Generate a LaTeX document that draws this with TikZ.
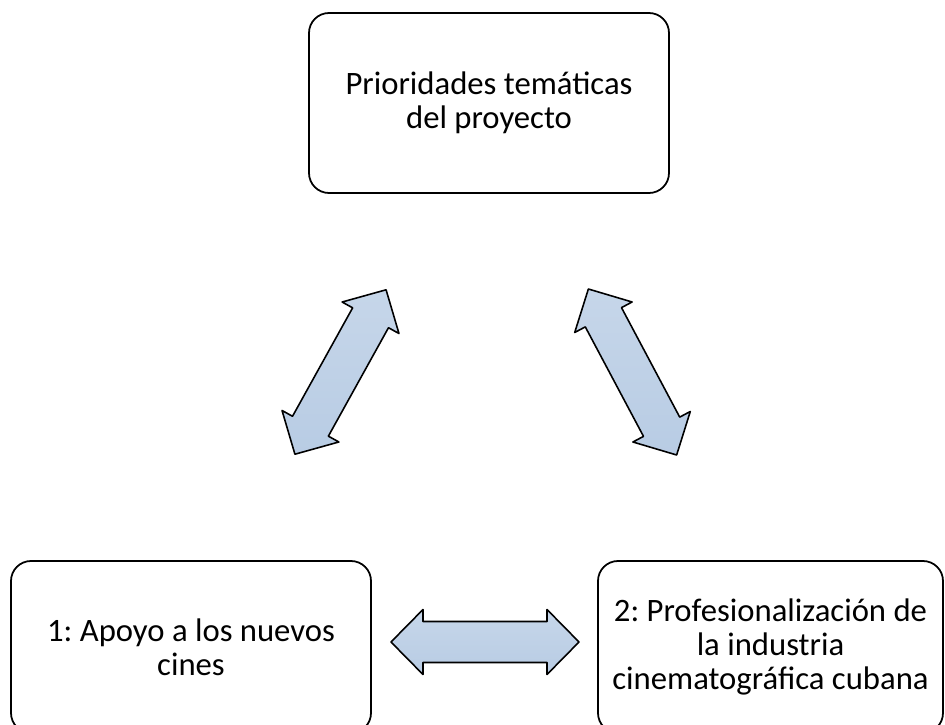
\documentclass[tikz,border=0pt]{standalone}
\usepackage{fontspec}
\setmainfont{Carlito}
\usepackage{tikz}
\usepackage{xcolor}
\definecolor{arrowblue}{RGB}{184,204,228}

\begin{document}
\frenchspacing
\begin{tikzpicture}[
  themebox/.style = {draw, black, line width = 1pt, rounded corners = 0.4cm,
    align = center, font = \fontsize{18.6}{19.5}\selectfont},
  linkarrow/.style = {draw, black, line width = 0.9pt, line join = round,
    top color = arrowblue!80!white, bottom color = arrowblue}]
\useasboundingbox (0,0) rectangle (18.9,14.48);
\clip (0,0) rectangle (18.9,14.48);
\node[themebox, minimum width = 7.2cm, minimum height = 3.6cm] (prior) at (9.78,12.42) {Prioridades temáticas\\del proyecto};
\node[themebox, minimum width = 7.2cm, minimum height = 3.44cm] (apoyo) at (3.82,1.54) {1: Apoyo a los nuevos\\cines};
\node[themebox, minimum width = 6.9cm, minimum height = 3.44cm] (indus) at (15.41,1.54) {2: Profesionalización de\\la industria\\cinematográfica cubana};
% double block arrows: centre x / centre y / angle
\foreach \x/\y/\a in {6.81/7.04/61, 12.65/7.04/-62, 9.70/1.64/0} {
  \begin{scope}[shift = {(\x,\y)}, rotate = \a]
    \draw[linkarrow] (-1.88,0) -- (-1.24,0.65) -- (-1.24,0.41) -- (1.24,0.41) -- (1.24,0.65)
      -- (1.88,0) -- (1.24,-0.65) -- (1.24,-0.41) -- (-1.24,-0.41) -- (-1.24,-0.65) -- cycle;
  \end{scope}
}
\end{tikzpicture}
\end{document}
